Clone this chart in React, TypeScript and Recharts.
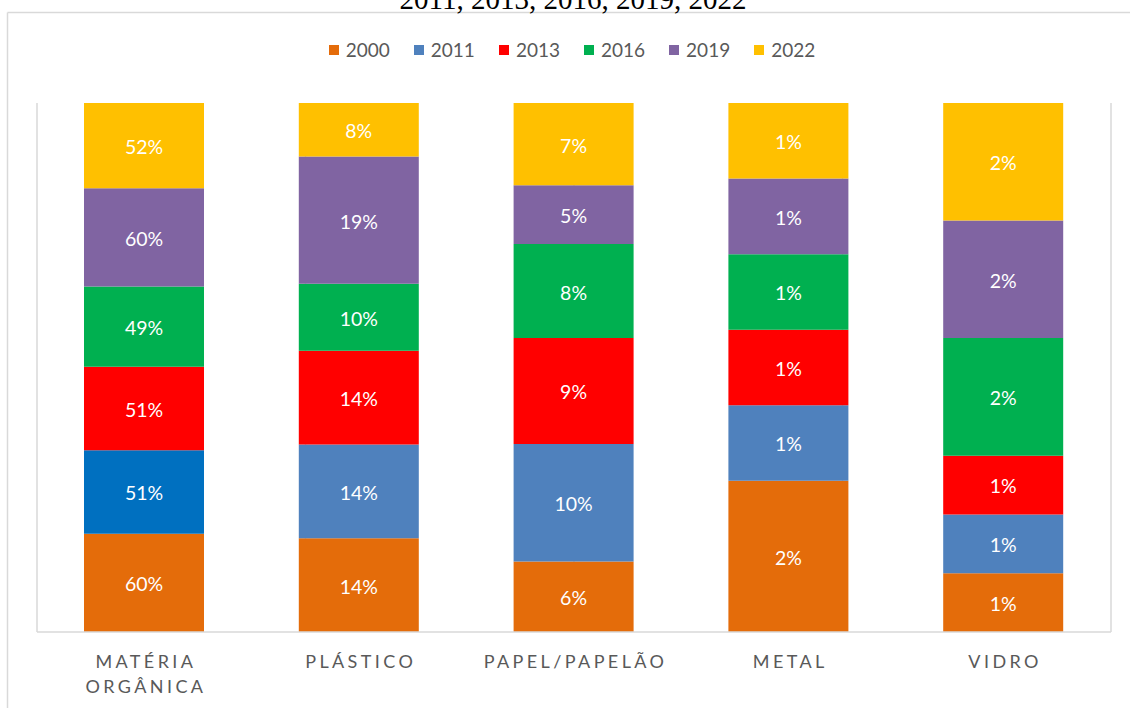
import React from 'react';
import { BarChart, Bar, XAxis, YAxis, CartesianGrid, Legend, LabelList, Cell } from 'recharts';

const title = '2011, 2013, 2016, 2019, 2022';
const categories = ['MATÉRIA ORGÂNICA', 'PLÁSTICO', 'PAPEL/PAPELÃO', 'METAL', 'VIDRO'];
const years = ['2000', '2011', '2013', '2016', '2019', '2022'];
const v2000 = [60, 14, 6, 2, 1];
const v2011 = [51, 14, 10, 1, 1];
const v2013 = [51, 14, 9, 1, 1];
const v2016 = [49, 10, 8, 1, 2];
const v2019 = [60, 19, 5, 1, 2];
const v2022 = [52, 8, 7, 1, 2];
const seriesValues = [v2000, v2011, v2013, v2016, v2019, v2022];
const colors = ['#E46C0A', '#4F81BD', '#FF0000', '#00B050', '#8064A2', '#FFC000'];
const fills2011 = ['#0070C0', '#4F81BD', '#4F81BD', '#4F81BD', '#4F81BD'];
const gridTicks = [0, 1, 2, 3, 4, 5];

const data = categories.map((name, i) => {
  const row: Record<string, string | number> = { name };
  years.forEach((y, s) => {
    row['y' + y] = seriesValues[s][i];
  });
  return row;
});

const FONT = 'Lato, "Open Sans", sans-serif';
const GRID = '#D9D9D9';

const CategoryTick = (props: any) => {
  const { x, y, payload } = props;
  const lines = String(payload.value).split(' ');
  return (
    <g transform={`translate(${x},${y})`}>
      {lines.map((l, i) => (
        <text
          key={i}
          x={1.5}
          y={28 + i * 25}
          textAnchor="middle"
          fill="#595959"
          fontSize={18}
          fontFamily={FONT}
          letterSpacing={3.4}
        >
          {l}
        </text>
      ))}
    </g>
  );
};

const renderLegend = () => (
  <div
    style={{
      display: 'flex',
      justifyContent: 'center',
      alignItems: 'center',
      gap: 24,
      fontFamily: FONT,
      fontSize: 19,
      color: '#595959',
      lineHeight: '24px',
      paddingLeft: 14,
    }}
  >
    {years.map((y, i) => (
      <div key={y} style={{ display: 'flex', alignItems: 'center' }}>
        <span
          style={{
            width: 10,
            height: 10,
            background: colors[i],
            marginRight: 7,
            display: 'inline-block',
          }}
        />
        {y}
      </div>
    ))}
  </div>
);

export default function App() {
  return (
    <div style={{ position: 'fixed', left: 0, top: 0, width: 1130, height: 708, overflow: 'hidden', background: '#fff' }}>
      <svg width={1130} height={708} style={{ position: 'absolute', left: 0, top: 0 }}>
        <line x1={7.5} y1={12.5} x2={1130} y2={12.5} stroke={GRID} strokeWidth={1.5} />
        <line x1={7.5} y1={12.5} x2={7.5} y2={708} stroke={GRID} strokeWidth={1.5} />
        <text x={573} y={9} textAnchor="middle" fontFamily='"Liberation Serif", "Times New Roman", serif' fontSize={29} fill="#000">
          {title}
        </text>
      </svg>
      <div style={{ position: 'absolute', left: 0, top: 0 }}>
        <BarChart
          width={1130}
          height={708}
          data={data}
          stackOffset="expand"
          margin={{ top: 103, right: 19, bottom: 16, left: 37 }}
          barSize={120}
        >
          <XAxis xAxisId="grid" type="number" domain={[0, 5]} ticks={gridTicks} hide />
          <CartesianGrid xAxisId="grid" horizontal={false} vertical stroke={GRID} strokeWidth={1.5} />
          <XAxis
            dataKey="name"
            interval={0}
            height={60}
            tickLine={false}
            axisLine={{ stroke: GRID, strokeWidth: 1.5 }}
            tick={<CategoryTick />}
          />
          <YAxis hide domain={[0, 1]} />
          <Legend
            layout="horizontal"
            verticalAlign="middle"
            align="center"
            content={renderLegend}
            wrapperStyle={{ top: 38, left: 0, width: 1130, height: 26 }}
          />
          {years.map((y, s) => (
            <Bar key={y} dataKey={'y' + y} name={y} stackId="a" fill={colors[s]} isAnimationActive={false}>
              {s === 1 && fills2011.map((f, i) => <Cell key={i} fill={f} />)}
              <LabelList
                dataKey={'y' + y}
                position="center"
                fill="#FFFFFF"
                fontSize={19.5}
                fontFamily={FONT}
                dy={1.5}
                formatter={(v: any) => `${v}%`}
              />
            </Bar>
          ))}
        </BarChart>
      </div>
    </div>
  );
}
